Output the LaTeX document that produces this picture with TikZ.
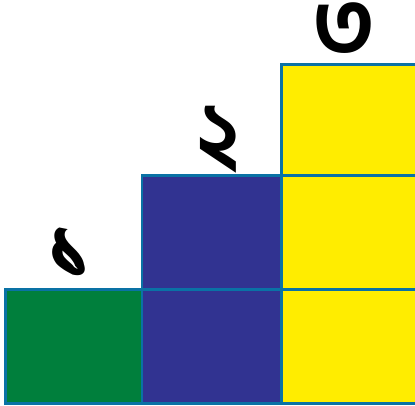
\documentclass[tikz,border=0pt]{standalone}
\usepackage{fontspec}
\newfontfamily\bengfont[Script=Bengali]{Hind Siliguri}
\definecolor{cellgreen}{RGB}{0,127,60}
\definecolor{cellblue}{RGB}{49,51,145}
\definecolor{cellyellow}{RGB}{255,237,0}
\definecolor{cellline}{RGB}{10,114,165}

\begin{document}
\begin{tikzpicture}[
    x=1cm, y=1cm,
    cell/.style={
        draw=cellline,
        line width=1.7pt
    },
    digit/.style={font=\bengfont\fontsize{52}{52}\selectfont\bfseries}
]

    \clip (0,0) rectangle (8.3,8.12);

    % green column
    \draw[cell, fill=cellgreen] (0.11,0.05) rectangle (2.84,2.32);

    % blue column
    \foreach \ya/\yb in {0.05/2.32, 2.32/4.60}{
        \draw[cell, fill=cellblue] (2.84,\ya) rectangle (5.63,\yb);
    }

    % yellow column
    \foreach \ya/\yb in {0.05/2.32, 2.32/4.60, 4.60/6.83}{
        \draw[cell, fill=cellyellow] (5.63,\ya) rectangle (8.6,\yb);
    }

    % digits
    \node[digit] (one) at (1.40,3.05) {১};
    \node[digit] (two) at (4.36,5.32) {২};
    \node[digit] (three) at (6.88,7.52) {৩};

\end{tikzpicture}
\end{document}
